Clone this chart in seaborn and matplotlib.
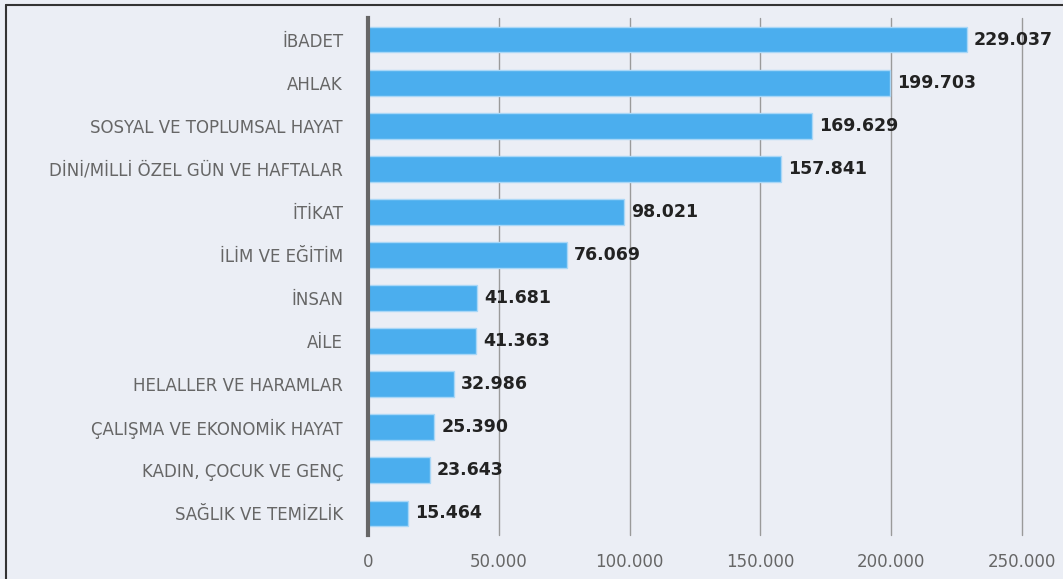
import matplotlib
matplotlib.use("Agg")
from matplotlib import pyplot as plt
from matplotlib.lines import Line2D
import seaborn as sns
import pandas as pd

categories = ["İBADET", "AHLAK", "SOSYAL VE TOPLUMSAL HAYAT", "DİNİ/MİLLİ ÖZEL GÜN VE HAFTALAR",
              "İTİKAT", "İLİM VE EĞİTİM", "İNSAN", "AİLE", "HELALLER VE HARAMLAR",
              "ÇALIŞMA VE EKONOMİK HAYAT", "KADIN, ÇOCUK VE GENÇ", "SAĞLIK VE TEMİZLİK"]
values = [229037, 199703, 169629, 157841, 98021, 76069, 41681, 41363, 32986, 25390, 23643, 15464]
xticks = [0, 50000, 100000, 150000, 200000, 250000]

df = pd.DataFrame({"kategori": categories, "sayi": values})

bg = "#EBEEF5"
sns.set_style("white")
plt.rcParams['font.family'] = ['DejaVu Sans']

fig = plt.figure(figsize=(10.63, 5.79), dpi=100, facecolor=bg)
ax = fig.add_axes([368 / 1063, 1 - 535 / 579, (1022 - 368) / 1063, (535 - 18) / 579])
ax.set_facecolor(bg)

sns.barplot(data=df, x="sayi", y="kategori", color="#4BAEEE", width=0.6,
            saturation=1, edgecolor="#A9D7F7", linewidth=1, ax=ax)

ax.set_xlim(0, 250000)
ax.set_xticks(xticks)
ax.set_xticklabels(["0" if t == 0 else f"{t:,}".replace(",", ".") for t in xticks])
ax.set_xlabel("")
ax.set_ylabel("")
ax.grid(axis="x", color="#9A9A9A", linewidth=1)
for gl in ax.get_xgridlines():
    gl.set_clip_on(False)
ax.set_axisbelow(True)
for s in ["top", "right", "bottom"]:
    ax.spines[s].set_visible(False)
ax.spines["left"].set_color("#666666")
ax.spines["left"].set_linewidth(3)
ax.spines["left"].set_zorder(5)
ax.tick_params(axis="x", length=0, pad=13, labelsize=12, labelcolor="#666666")
ax.tick_params(axis="y", length=0, pad=18, labelsize=12, labelcolor="#666666")

labels = [f"{v:,}".replace(",", ".") for v in values]
ax.bar_label(ax.containers[0], labels=labels, padding=5, fontsize=12.5, fontweight="bold",
             color="#222222", clip_on=False)

# frame lines at top and left of figure
fig.add_artist(Line2D([6 / 1063, 6 / 1063], [0, 1 - 5 / 579], transform=fig.transFigure,
                      color="#333333", linewidth=1.5))
fig.add_artist(Line2D([6 / 1063, 1], [1 - 5 / 579, 1 - 5 / 579], transform=fig.transFigure,
                      color="#333333", linewidth=1.5))

fig.savefig("out.png", dpi=100, facecolor=bg)
